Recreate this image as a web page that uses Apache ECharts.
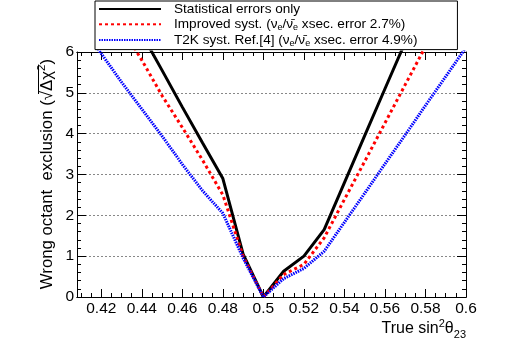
<!DOCTYPE html>
<html>
<head>
<meta charset="utf-8">
<script src="https://cdn.jsdelivr.net/npm/echarts@6/dist/echarts.min.js"></script>
<style>
html,body{margin:0;padding:0;background:#fff;}
#c{width:518px;height:350px;}
</style>
</head>
<body>
<div id="c"></div>
<script>
// ---- data ----
var xStat = [0.44, 0.45, 0.46, 0.47, 0.48, 0.49, 0.50, 0.51, 0.52, 0.53, 0.54, 0.55, 0.56, 0.57];
var yStat = [6.44, 5.55, 4.65, 3.77, 2.9, 1.05, 0, 0.63, 1.0, 1.65, 2.8, 3.95, 5.1, 6.24];
var xImp = [0.43, 0.44, 0.45, 0.46, 0.47, 0.48, 0.49, 0.50, 0.51, 0.52, 0.53, 0.54, 0.55, 0.56, 0.57, 0.58];
var yImp = [6.6, 5.8, 4.93, 4.15, 3.35, 2.5, 1.0, 0, 0.55, 0.8, 1.45, 2.39, 3.32, 4.26, 5.2, 6.13];
var xT2K = [0.41, 0.42, 0.43, 0.44, 0.45, 0.46, 0.47, 0.48, 0.49, 0.50, 0.51, 0.52, 0.53, 0.54, 0.55, 0.56, 0.57, 0.58, 0.59, 0.60];
var yT2K = [6.6, 5.96, 5.26, 4.6, 3.94, 3.25, 2.6, 2.05, 0.95, 0, 0.45, 0.7, 1.12, 1.83, 2.54, 3.26, 3.97, 4.69, 5.4, 6.11];
var xTickLabels = [0.42, 0.44, 0.46, 0.48, 0.5, 0.52, 0.54, 0.56, 0.58, 0.6];
var xMinorTicks = [0.41, 0.415, 0.42, 0.425, 0.43, 0.435, 0.44, 0.445, 0.45, 0.455, 0.46, 0.465, 0.47, 0.475, 0.48, 0.485, 0.49, 0.495, 0.5, 0.505, 0.51, 0.515, 0.52, 0.525, 0.53, 0.535, 0.54, 0.545, 0.55, 0.555, 0.56, 0.565, 0.57, 0.575, 0.58, 0.585, 0.59, 0.595, 0.6];
var yTickLabels = [0, 1, 2, 3, 4, 5, 6];
var legendNames = ['stat', 'imp', 't2k'];
var legendTexts = {
  stat: 'Statistical errors only',
  imp: 'Improved syst. ({n|ν}{sub|e}{n|/ν\u0304}{sub|e}{n| xsec. error 2.7%)}',
  t2k: 'T2K syst. Ref.[4] ({n|ν}{sub|e}{n|/ν\u0304}{sub|e}{n| xsec. error 4.9%)}'
};

function pairs(xs, ys) { return xs.map(function (x, i) { return [x, ys[i]]; }); }

var FONT = 'Liberation Sans';
var XMIN = 0.408, XMAX = 0.6;
var chart = echarts.init(document.getElementById('c'), null, {renderer: 'canvas'});

function xAxisDef(pos, major, showLabel) {
  return {
    type: 'value', position: pos, min: XMIN, max: XMAX,
    axisLine: {show: true, lineStyle: {color: '#000', width: 1}},
    axisTick: {show: true, inside: true, length: major ? 8 : 4,
      customValues: major ? xTickLabels : xMinorTicks, lineStyle: {color: '#000'}},
    axisLabel: {show: showLabel, customValues: xTickLabels, color: '#000',
      fontFamily: FONT, fontSize: 15.5, margin: 4,
      formatter: function (v) { return String(Math.round(v * 100) / 100); }},
    splitLine: {show: false}
  };
}
function yAxisDef(pos, showLabel) {
  return {
    type: 'value', position: pos, min: 0, max: 6, interval: 1,
    axisLine: {show: true, lineStyle: {color: '#000', width: 1}},
    axisTick: {show: true, inside: true, length: 9, lineStyle: {color: '#000'}},
    minorTick: {show: true, splitNumber: 5, length: 4, lineStyle: {color: '#000'}},
    axisLabel: {show: showLabel, color: '#000', fontFamily: FONT, fontSize: 15.5, margin: 3},
    splitLine: {show: showLabel, lineStyle: {color: '#888', width: 1, type: [2, 2]}}
  };
}

var TFS = 16.8;
// measure text for overline of the sqrt
var cv = document.createElement('canvas').getContext('2d');
cv.font = TFS + 'px "' + FONT + '"';
var wParen = cv.measureText(')').width;
var wDelta = cv.measureText('Δχ').width;
cv.font = '11.5px "' + FONT + '"';
var wTwo = cv.measureText('2').width;
var titleTopY = 59;

var option = {
  animation: false,
  backgroundColor: '#fff',
  grid: {left: 77, right: 52, top: 52, bottom: 53, containLabel: false},
  legend: {
    data: legendNames, orient: 'vertical', left: 95, top: 1,
    itemWidth: 62, itemHeight: 14, itemGap: 1.3,
    padding: [1, 40, 2, 3],
    borderColor: '#000', borderWidth: 1, backgroundColor: '#fff',
    itemStyle: {opacity: 0},
    formatter: function (name) { return legendTexts[name]; },
    textStyle: {fontFamily: FONT, fontSize: 13.6, color: '#000', padding: [0, 0, 0, 8],
      rich: {
        n: {fontFamily: FONT, fontSize: 13.6, color: '#000'},
        sub: {fontFamily: FONT, fontSize: 9, color: '#000', verticalAlign: 'bottom', padding: [6, 0, 0, 0]}
      }}
  },
  xAxis: [xAxisDef('bottom', true, true), xAxisDef('bottom', false, false),
          xAxisDef('top', true, false), xAxisDef('top', false, false)],
  yAxis: [yAxisDef('left', true), yAxisDef('right', false)],
  series: [
    {name: 'stat', type: 'line', data: pairs(xStat, yStat), symbol: 'none', clip: true,
     lineStyle: {color: '#000', width: 3, type: 'solid'}, itemStyle: {color: '#000'}, z: 3},
    {name: 'imp', type: 'line', data: pairs(xImp, yImp), symbol: 'none', clip: true,
     lineStyle: {color: '#ff0000', width: 3, type: [3, 3]}, itemStyle: {color: '#ff0000'}, z: 4},
    {name: 't2k', type: 'line', data: pairs(xT2K, yT2K), symbol: 'none', clip: true,
     lineStyle: {color: '#0000ff', width: 3, type: [1.5, 1]}, itemStyle: {color: '#0000ff'}, z: 5}
  ],
  graphic: [
    {type: 'text', x: 466, y: 329, z: 10,
     style: {text: '{n|True sin}{sup|2}{n|θ}{sub|23}', align: 'right', verticalAlign: 'middle',
       rich: {
         n: {fontFamily: FONT, fontSize: 16, color: '#000', lineHeight: 22},
         sup: {fontFamily: FONT, fontSize: 11, color: '#000', verticalAlign: 'top', lineHeight: 22},
         sub: {fontFamily: FONT, fontSize: 11, color: '#000', verticalAlign: 'bottom', lineHeight: 22}
       }}},
    {type: 'text', x: 47, y: titleTopY, rotation: Math.PI / 2, z: 10,
     style: {text: '{n|Wrong octant  exclusion (√}{n|Δχ}{sup|2}{n|)}', align: 'right', verticalAlign: 'middle',
       rich: {
         n: {fontFamily: FONT, fontSize: TFS, color: '#000', lineHeight: 22},
         sup: {fontFamily: FONT, fontSize: 11.5, color: '#000', verticalAlign: 'top', lineHeight: 22}
       }}},
    {type: 'line', z: 10,
     shape: {x1: 38.5, y1: titleTopY + wParen, x2: 38.5, y2: titleTopY + wParen + wTwo + wDelta + 3},
     style: {stroke: '#000', lineWidth: 1}}
  ]
};
chart.setOption(option);
</script>
</body>
</html>
